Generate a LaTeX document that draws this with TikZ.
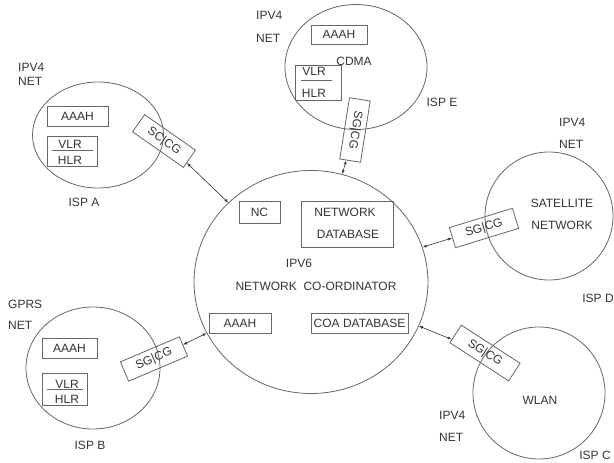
\documentclass[tikz,border=0pt]{standalone}
\usepackage{fontspec}
\setmainfont{Liberation Sans}
\usetikzlibrary{shapes.geometric,arrows.meta}
\definecolor{txtcol}{gray}{0.2}
\definecolor{linecol}{gray}{0.4}
\tikzset{
  lbl/.style={font=\fontsize{12}{14}\selectfont, text=txtcol, inner sep=0pt},
  lblw/.style={lbl, anchor=west},
  cloud/.style={ellipse, draw=linecol, line width=0.8pt, inner sep=0pt},
  bx/.style={draw=linecol, line width=0.8pt, inner sep=0pt, lbl},
  gw/.style={draw=linecol, line width=0.8pt, inner sep=0pt, lbl, minimum height=21pt},
  arr/.style={draw=txtcol, line width=0.6pt, {Latex[length=4pt,width=3pt]}-{Latex[length=4pt,width=3pt]}},
  sep/.style={draw=linecol, line width=0.8pt}
}
\begin{document}
\begin{tikzpicture}[x=1pt,y=-1pt]
\useasboundingbox (0,0) rectangle (614,463);
% ---------- main network coordinator ----------
\node[cloud, minimum width=234pt, minimum height=223pt] (main) at (311,282) {};
\node[bx, minimum width=41pt, minimum height=22pt] (nc) at (259.5,212) {NC};
\node[bx, minimum width=92pt, minimum height=46pt] (ndb) at (347,224) {};
\node[lbl] (ndbt1) at (345,212) {NETWORK};
\node[lbl] (ndbt2) at (348,234) {DATABASE};
\node[lbl] (ipv6) at (299,263) {IPV6};
\node[lbl] (nco) at (316,286) {NETWORK\ \ CO-ORDINATOR};
\node[bx, minimum width=62pt, minimum height=20pt] (maaah) at (240,323) {AAAH};
\node[bx, minimum width=97pt, minimum height=20pt] (coa) at (359.5,323) {COA DATABASE};
% ---------- ISP A ----------
\node[cloud, minimum width=131pt, minimum height=106pt] (ispa) at (98,135) {};
\node[lblw] (aip) at (18,67) {IPV4};
\node[lblw] (anet) at (18,81) {NET};
\node[lbl] (alab) at (84,202) {ISP A};
\node[bx, minimum width=61pt, minimum height=20pt] (aaaah) at (77.5,116) {AAAH};
\node[bx, minimum width=50pt, minimum height=30pt] (avh) at (72,151) {};
\node[lbl] (avlr) at (70,144.5) {VLR};
\node[lbl] (ahlr) at (70,160.5) {HLR};
\coordinate (avl1) at (52,150);
\coordinate (avl2) at (93,150);
\draw[sep] (avl1) -- (avl2);
\node[gw, minimum width=62pt, rotate=-35] (sga) at (164,141) {SC|CG};
% ---------- ISP E ----------
\node[cloud, minimum width=142pt, minimum height=125pt] (ispe) at (356,67) {};
\node[lblw] (eip) at (256,15) {IPV4};
\node[lblw] (enet) at (256,38) {NET};
\node[bx, minimum width=56pt, minimum height=19pt] (eaaah) at (339,34.5) {AAAH};
\node[bx, minimum width=46pt, minimum height=35pt] (evh) at (318.5,82.5) {};
\node[lbl] (ecdma) at (354,61) {CDMA};
\node[lbl] (evlr) at (314,71) {VLR};
\node[lbl] (ehlr) at (314,93) {HLR};
\coordinate (evl1) at (301,80);
\coordinate (evl2) at (332,80);
\draw[sep] (evl1) -- (evl2);
\node[lbl] (elab) at (442,102) {ISP E};
\node[gw, minimum width=62pt, rotate=-99] (sge) at (355,130) {SG|CG};
% ---------- ISP D (satellite) ----------
\node[cloud, minimum width=128pt, minimum height=128pt] (ispd) at (549,216) {};
\node[lblw] (dip) at (559,122) {IPV4};
\node[lblw] (dnet) at (559,144) {NET};
\node[lbl] (dsat) at (562,203) {SATELLITE};
\node[lbl] (dnw) at (562,225) {NETWORK};
\node[lbl] (dlab) at (598,298) {ISP D};
\node[gw, minimum width=66pt, rotate=17] (sgd) at (484,228) {SG|CG};
% ---------- ISP C (WLAN) ----------
\node[cloud, minimum width=132pt, minimum height=132pt] (ispc) at (539,393) {};
\node[lbl] (cwlan) at (540,400) {WLAN};
\node[lblw] (cip) at (439,415) {IPV4};
\node[lblw] (cnet) at (439,437) {NET};
\node[lbl] (clab) at (595,455) {ISP C};
\node[gw, minimum width=70pt, rotate=-33] (sgc) at (485,353) {SG|CG};
% ---------- ISP B (GPRS) ----------
\node[cloud, minimum width=134pt, minimum height=122pt] (ispb) at (93,368) {};
\node[lblw] (bgprs) at (8,304) {GPRS};
\node[lblw] (bnet) at (8,325) {NET};
\node[bx, minimum width=55pt, minimum height=20pt] (baaah) at (69.5,348) {AAAH};
\node[bx, minimum width=45pt, minimum height=32pt] (bvh) at (64.5,389) {};
\node[lbl] (bvlr) at (67,384) {VLR};
\node[lbl] (bhlr) at (67,399) {HLR};
\coordinate (bvl1) at (47,389);
\coordinate (bvl2) at (83,389);
\draw[sep] (bvl1) -- (bvl2);
\node[lbl] (blab) at (90,445) {ISP B};
\node[gw, minimum width=64pt, rotate=23] (sgb) at (154,359) {SG|CG};
% ---------- connectors ----------
\draw[arr] (sga) -- (main);
\draw[arr] (sge) -- (main);
\draw[arr] (sgd) -- (main);
\draw[arr] (sgc) -- (main);
\draw[arr] (sgb) -- (main);
\end{tikzpicture}
\end{document}
